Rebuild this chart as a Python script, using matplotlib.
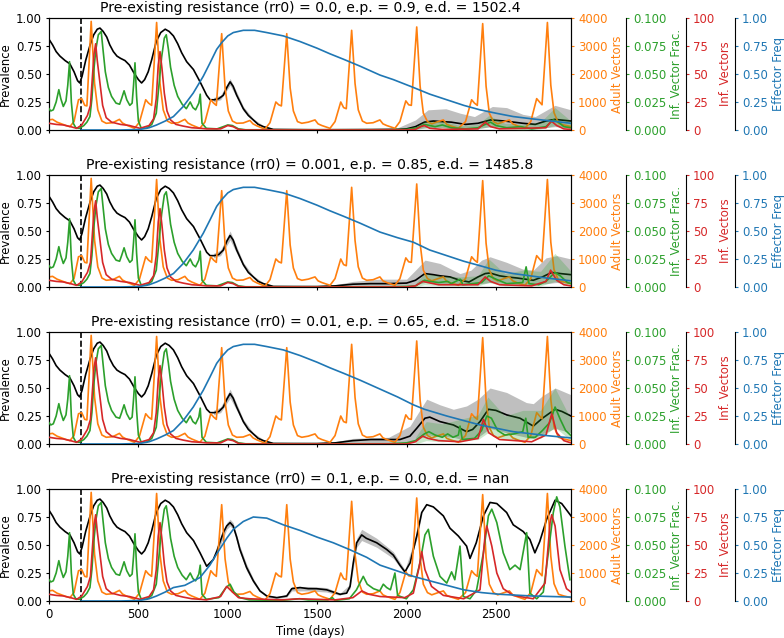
import numpy as np
import matplotlib
matplotlib.use("Agg")
import matplotlib.pyplot as plt

plt.rcParams["font.size"] = 8.4
plt.rcParams["xtick.major.size"] = 2.5
plt.rcParams["ytick.major.size"] = 2.5
plt.rcParams["xtick.major.pad"] = 2.5
plt.rcParams["ytick.major.pad"] = 2.5
plt.rcParams["axes.labelpad"] = 2.8
plt.rcParams["axes.titlepad"] = 4.2

# Panel parameters
rr0 = [0.0, 0.001, 0.01, 0.1]
ep = [0.9, 0.85, 0.65, 0.0]
ed = [1502.4, 1485.8, 1518.0, float("nan")]
release_day = 180
x_ticks = [0, 500, 1000, 1500, 2000, 2500]

# Adult vectors (same in all panels), (day, count)
adult_vectors = [(0, 360), (20, 380), (45, 280), (70, 220), (95, 160), (117, 120), (140, 300), (165, 1080),
                 (183, 1120), (200, 880), (212, 860), (236, 3880), (255, 1660), (273, 720), (296, 320),
                 (320, 240), (356, 260), (394, 380), (411, 250), (432, 180), (478, 60), (506, 280),
                 (541, 1080), (557, 960), (574, 880), (602, 3840), (621, 1660), (639, 720), (662, 320),
                 (686, 240), (722, 260), (760, 380), (777, 250), (798, 180), (844, 60), (872, 280),
                 (905, 1080), (921, 960), (936, 880), (966, 3440), (985, 1500), (1003, 680), (1026, 320),
                 (1050, 240), (1086, 250), (1124, 340), (1141, 220), (1162, 150), (1208, 30), (1236, 260),
                 (1269, 1000), (1285, 900), (1300, 860), (1330, 3440), (1349, 1500), (1367, 680),
                 (1390, 300), (1414, 240), (1450, 280), (1488, 360), (1505, 220), (1526, 160), (1572, 60),
                 (1600, 300), (1632, 1000), (1648, 800), (1663, 760), (1693, 3560), (1712, 1660),
                 (1730, 720), (1753, 320), (1777, 240), (1813, 260), (1851, 360), (1868, 220), (1889, 160),
                 (1935, 60), (1963, 300), (1996, 1040), (2012, 900), (2027, 880), (2057, 3680),
                 (2076, 1560), (2094, 600), (2117, 300), (2141, 220), (2177, 300), (2206, 360), (2225, 200),
                 (2250, 140), (2290, 60), (2330, 300), (2364, 1080), (2380, 960), (2396, 880), (2426, 3800),
                 (2445, 1560), (2463, 600), (2486, 300), (2510, 220), (2546, 300), (2575, 360), (2594, 220),
                 (2620, 150), (2662, 60), (2695, 300), (2728, 1120), (2744, 1000), (2758, 900), (2788, 3840),
                 (2807, 1600), (2825, 620), (2850, 240), (2880, 180), (2920, 120)]

# Prevalence (mean), common start
black_early = [(0, 0.81), (20, 0.76), (40, 0.70), (61, 0.66), (90, 0.62), (117, 0.59), (140, 0.52), (160, 0.44),
               (172, 0.42), (185, 0.48), (205, 0.62), (230, 0.76), (250, 0.85), (270, 0.90), (285, 0.91),
               (303, 0.88), (323, 0.83), (340, 0.76), (360, 0.70), (380, 0.66), (400, 0.64), (425, 0.62),
               (450, 0.58), (475, 0.51), (500, 0.45), (518, 0.42), (535, 0.45), (555, 0.52), (575, 0.63),
               (600, 0.79), (625, 0.87), (650, 0.90), (672, 0.88), (696, 0.84), (720, 0.77), (742, 0.69),
               (770, 0.61), (808, 0.54), (845, 0.43)]
black_p1 = [(882, 0.31), (901, 0.27), (925, 0.27), (950, 0.28), (975, 0.31), (995, 0.38), (1013, 0.43),
            (1030, 0.39), (1050, 0.31), (1087, 0.19), (1115, 0.13), (1143, 0.09), (1170, 0.05), (1199, 0.03),
            (1255, 0.005), (1500, 0.002), (1800, 0.003), (1950, 0.005), (2000, 0.01), (2050, 0.03),
            (2100, 0.07), (2150, 0.08), (2250, 0.07), (2330, 0.05), (2400, 0.06), (2470, 0.09), (2550, 0.08),
            (2650, 0.06), (2720, 0.05), (2780, 0.08), (2830, 0.095), (2920, 0.08)]
black_p2 = [(882, 0.31), (901, 0.28), (925, 0.28), (950, 0.29), (975, 0.33), (995, 0.41), (1013, 0.46),
            (1030, 0.42), (1050, 0.33), (1087, 0.20), (1115, 0.13), (1143, 0.09), (1170, 0.05), (1199, 0.03),
            (1255, 0.005), (1500, 0.003), (1600, 0.01), (1700, 0.025), (1800, 0.03), (1900, 0.03),
            (2000, 0.035), (2050, 0.06), (2103, 0.12), (2150, 0.11), (2187, 0.10), (2243, 0.09), (2299, 0.06),
            (2350, 0.045), (2400, 0.09), (2440, 0.12), (2467, 0.125), (2520, 0.10), (2560, 0.09),
            (2620, 0.08), (2709, 0.06), (2760, 0.09), (2812, 0.13), (2860, 0.12), (2920, 0.11)]
black_p3 = [(882, 0.31), (901, 0.28), (925, 0.28), (950, 0.29), (975, 0.33), (995, 0.40), (1013, 0.45),
            (1030, 0.41), (1050, 0.33), (1087, 0.20), (1115, 0.13), (1143, 0.09), (1170, 0.05), (1199, 0.03),
            (1255, 0.005), (1500, 0.003), (1600, 0.01), (1700, 0.03), (1800, 0.04), (1900, 0.04),
            (1963, 0.04), (2019, 0.07), (2057, 0.14), (2103, 0.23), (2130, 0.24), (2187, 0.20), (2262, 0.17),
            (2336, 0.11), (2370, 0.13), (2411, 0.20), (2458, 0.31), (2500, 0.30), (2560, 0.26), (2635, 0.23),
            (2709, 0.16), (2760, 0.23), (2831, 0.31), (2870, 0.29), (2920, 0.25)]
black_p4 = [(882, 0.31), (919, 0.37), (940, 0.45), (957, 0.53), (975, 0.61), (994, 0.67), (1013, 0.70),
            (1030, 0.67), (1050, 0.57), (1068, 0.46), (1105, 0.30), (1143, 0.18), (1180, 0.09), (1218, 0.045),
            (1274, 0.03), (1330, 0.045), (1358, 0.11), (1404, 0.12), (1450, 0.11), (1497, 0.11), (1553, 0.10),
            (1590, 0.08), (1628, 0.06), (1665, 0.07), (1684, 0.13), (1702, 0.34), (1721, 0.52), (1749, 0.59),
            (1775, 0.56), (1833, 0.52), (1889, 0.46), (1926, 0.41), (1963, 0.32), (1991, 0.26), (2020, 0.34),
            (2057, 0.58), (2085, 0.79), (2113, 0.86), (2150, 0.84), (2206, 0.76), (2243, 0.65), (2290, 0.58),
            (2336, 0.49), (2355, 0.38), (2390, 0.52), (2430, 0.76), (2467, 0.88), (2505, 0.87), (2560, 0.79),
            (2597, 0.68), (2653, 0.62), (2690, 0.55), (2718, 0.43), (2745, 0.53), (2784, 0.73), (2831, 0.90),
            (2868, 0.87), (2920, 0.76)]

# Prevalence spread (day, low, high)
band_p1 = [(920, 0.25, 0.29), (960, 0.27, 0.31), (1013, 0.40, 0.46), (1050, 0.29, 0.34), (1087, 0.17, 0.21),
           (1143, 0.08, 0.10), (1199, 0.02, 0.04), (1255, 0.0, 0.01), (1950, 0.0, 0.02), (2050, 0.01, 0.09),
           (2120, 0.02, 0.18), (2220, 0.02, 0.19), (2300, 0.01, 0.15), (2380, 0.01, 0.12), (2480, 0.03, 0.21),
           (2560, 0.02, 0.20), (2650, 0.01, 0.14), (2720, 0.01, 0.12), (2830, 0.03, 0.22), (2920, 0.02, 0.18)]
band_p2 = [(920, 0.26, 0.30), (960, 0.28, 0.33), (1013, 0.42, 0.50), (1050, 0.30, 0.36), (1087, 0.18, 0.22),
           (1143, 0.08, 0.10), (1199, 0.02, 0.04), (1255, 0.0, 0.01), (1600, 0.0, 0.02), (1700, 0.0, 0.05),
           (1850, 0.0, 0.07), (2000, 0.0, 0.07), (2050, 0.02, 0.15), (2103, 0.04, 0.24), (2187, 0.03, 0.21),
           (2299, 0.02, 0.12), (2360, 0.02, 0.15), (2420, 0.03, 0.24), (2467, 0.04, 0.27), (2560, 0.03, 0.22),
           (2650, 0.02, 0.16), (2709, 0.02, 0.15), (2780, 0.03, 0.26), (2840, 0.04, 0.28), (2920, 0.03, 0.25)]
band_p3 = [(920, 0.26, 0.30), (960, 0.28, 0.33), (1013, 0.41, 0.49), (1050, 0.30, 0.36), (1087, 0.18, 0.22),
           (1143, 0.08, 0.10), (1199, 0.02, 0.04), (1255, 0.0, 0.01), (1600, 0.0, 0.02), (1700, 0.01, 0.05),
           (1900, 0.01, 0.06), (2019, 0.01, 0.16), (2113, 0.08, 0.40), (2187, 0.07, 0.35), (2262, 0.06, 0.31),
           (2336, 0.03, 0.34), (2400, 0.06, 0.40), (2467, 0.14, 0.50), (2560, 0.10, 0.46), (2670, 0.06, 0.37),
           (2709, 0.05, 0.36), (2760, 0.09, 0.43), (2831, 0.14, 0.50), (2920, 0.10, 0.44)]
band_p4 = [(940, 0.42, 0.48), (994, 0.64, 0.70), (1013, 0.67, 0.73), (1030, 0.64, 0.70), (1068, 0.43, 0.49),
           (1105, 0.27, 0.33), (1143, 0.16, 0.20), (1180, 0.08, 0.10), (1218, 0.035, 0.055),
           (1274, 0.02, 0.04), (1330, 0.035, 0.055), (1358, 0.09, 0.13), (1450, 0.09, 0.13),
           (1553, 0.08, 0.12), (1628, 0.05, 0.07), (1684, 0.11, 0.15), (1721, 0.48, 0.56), (1749, 0.54, 0.64),
           (1833, 0.48, 0.56), (1926, 0.38, 0.44), (1991, 0.24, 0.28), (2057, 0.55, 0.61), (2085, 0.77, 0.81)]

# Infected vector fraction
green_early = [(0, 0.019), (10, 0.017), (24, 0.018), (40, 0.025), (55, 0.036), (66, 0.028), (80, 0.021),
               (95, 0.026), (105, 0.040), (115, 0.061), (125, 0.025), (136, 0.006), (150, 0.002),
               (170, 0.0015), (195, 0.004), (212, 0.007), (229, 0.012), (240, 0.028), (250, 0.052),
               (262, 0.072), (276, 0.085), (292, 0.088), (302, 0.072), (315, 0.052), (332, 0.038), (350, 0.030),
               (375, 0.024), (395, 0.023), (406, 0.028), (420, 0.035), (435, 0.027), (452, 0.022), (465, 0.024),
               (473, 0.040), (481, 0.060), (490, 0.030), (500, 0.008), (515, 0.002), (545, 0.0015),
               (575, 0.005), (600, 0.015), (615, 0.040), (630, 0.065), (645, 0.082), (656, 0.085), (668, 0.072),
               (680, 0.056), (700, 0.040), (720, 0.030), (745, 0.023), (768, 0.019), (790, 0.025), (805, 0.020),
               (820, 0.018), (838, 0.024), (846, 0.032), (856, 0.006), (880, 0.0015)]
green_mid = [(940, 0.001), (975, 0.003), (1000, 0.0045), (1025, 0.004), (1060, 0.001), (1100, 0.0002),
             (1900, 0.0002)]
green_p1 = [(2000, 0.0005), (2060, 0.002), (2100, 0.005), (2130, 0.004), (2160, 0.003), (2200, 0.0045),
            (2250, 0.002), (2330, 0.001), (2400, 0.002), (2440, 0.005), (2470, 0.007), (2500, 0.004),
            (2560, 0.002), (2640, 0.003), (2700, 0.001), (2780, 0.003), (2820, 0.009), (2850, 0.007),
            (2880, 0.003), (2920, 0.002)]
green_p2 = [(2000, 0.0005), (2050, 0.001), (2100, 0.006), (2130, 0.005), (2180, 0.004), (2230, 0.005),
            (2250, 0.003), (2300, 0.007), (2315, 0.002), (2370, 0.003), (2420, 0.004), (2460, 0.010),
            (2500, 0.007), (2560, 0.003), (2650, 0.004), (2669, 0.018), (2685, 0.003), (2740, 0.002),
            (2780, 0.005), (2830, 0.013), (2860, 0.010), (2900, 0.004), (2920, 0.003)]
green_p3 = [(2000, 0.001), (2050, 0.003), (2100, 0.009), (2125, 0.011), (2160, 0.008), (2200, 0.006),
            (2230, 0.009), (2260, 0.006), (2290, 0.008), (2299, 0.016), (2312, 0.004), (2380, 0.005),
            (2420, 0.012), (2449, 0.025), (2475, 0.023), (2510, 0.012), (2550, 0.008), (2600, 0.009),
            (2650, 0.011), (2667, 0.023), (2680, 0.006), (2720, 0.006), (2760, 0.012), (2800, 0.019),
            (2831, 0.033), (2860, 0.022), (2890, 0.012), (2920, 0.0075)]
green_p4 = [(950, 0.003), (990, 0.012), (1013, 0.015), (1035, 0.008), (1068, 0.003), (1120, 0.001),
            (1300, 0.0005), (1400, 0.002), (1450, 0.001), (1560, 0.001), (1585, 0.003), (1600, 0.0005),
            (1680, 0.002), (1720, 0.010), (1758, 0.022), (1780, 0.015), (1815, 0.011), (1850, 0.009),
            (1870, 0.015), (1889, 0.012), (1910, 0.010), (1935, 0.025), (1950, 0.005), (1999, 0.002),
            (2038, 0.010), (2075, 0.034), (2103, 0.059), (2122, 0.064), (2150, 0.040), (2187, 0.022),
            (2225, 0.016), (2252, 0.026), (2270, 0.019), (2299, 0.049), (2318, 0.004), (2355, 0.002),
            (2392, 0.010), (2430, 0.043), (2458, 0.076), (2477, 0.082), (2505, 0.070), (2541, 0.043),
            (2578, 0.028), (2607, 0.032), (2635, 0.028), (2672, 0.061), (2690, 0.007), (2728, 0.002),
            (2765, 0.008), (2793, 0.043), (2821, 0.079), (2840, 0.093), (2858, 0.084), (2886, 0.049),
            (2914, 0.019)]
gband_p1 = [(2050, 0.0, 0.003), (2100, 0.002, 0.008), (2200, 0.002, 0.008), (2300, 0.0, 0.004),
            (2400, 0.001, 0.005), (2460, 0.003, 0.013), (2550, 0.001, 0.006), (2650, 0.0, 0.005),
            (2750, 0.001, 0.007), (2830, 0.004, 0.020), (2920, 0.001, 0.008)]
gband_p2 = [(2050, 0.0, 0.003), (2100, 0.002, 0.012), (2200, 0.001, 0.010), (2300, 0.001, 0.009),
            (2400, 0.001, 0.010), (2460, 0.004, 0.025), (2550, 0.001, 0.012), (2650, 0.001, 0.015),
            (2750, 0.001, 0.014), (2830, 0.005, 0.030), (2920, 0.001, 0.014)]
gband_p3 = [(2050, 0.0, 0.006), (2110, 0.003, 0.020), (2200, 0.002, 0.018), (2300, 0.003, 0.022),
            (2400, 0.004, 0.026), (2455, 0.010, 0.042), (2550, 0.004, 0.025), (2650, 0.004, 0.030),
            (2750, 0.005, 0.030), (2830, 0.015, 0.050), (2920, 0.003, 0.022)]

# Infected vectors
red_early = [(0, 6), (40, 5), (80, 4.5), (120, 3), (155, 1.5), (183, 4.5), (200, 9), (215, 13), (232, 22),
             (243, 48), (252, 68), (261, 77), (270, 62), (285, 42), (300, 22), (320, 11), (350, 7), (400, 5),
             (450, 4), (509, 1.5), (560, 4), (585, 10), (600, 28), (611, 58), (621, 70), (632, 55), (645, 33),
             (660, 17), (680, 9), (710, 5), (750, 3.5), (800, 2), (850, 1.5), (880, 1)]
red_mid = [(960, 1), (1000, 4), (1030, 3), (1060, 0.5), (1100, 0), (2000, 0)]
red_p1 = [(2050, 0.5), (2080, 3), (2100, 4), (2130, 1.5), (2200, 0.5), (2400, 1), (2440, 7), (2470, 3),
          (2520, 1), (2780, 2), (2810, 8), (2840, 4), (2880, 1), (2920, 0.5)]
red_p2 = [(2050, 1), (2090, 5), (2120, 4), (2180, 2), (2400, 2), (2440, 9), (2470, 5), (2520, 2), (2700, 1),
          (2780, 5), (2806, 15), (2840, 6), (2880, 2), (2920, 1)]
red_p3 = [(2050, 2), (2090, 7), (2120, 5), (2180, 3), (2300, 2), (2400, 5), (2430, 22), (2460, 10),
          (2520, 4), (2700, 2), (2780, 8), (2812, 27), (2840, 10), (2880, 3), (2920, 1)]
red_p4 = [(960, 4), (994, 13), (1020, 9), (1060, 3), (1120, 2), (1300, 1), (1400, 2), (1600, 1), (1700, 3),
          (1750, 9), (1790, 6), (1852, 4), (1990, 3), (2038, 7), (2070, 30), (2085, 44), (2103, 28),
          (2140, 13), (2206, 5), (2320, 2), (2411, 10), (2439, 58), (2449, 67), (2477, 49), (2505, 25),
          (2541, 11), (2597, 5), (2709, 2), (2775, 16), (2803, 70), (2812, 77), (2831, 67), (2858, 28),
          (2895, 11), (2920, 8)]

# Effector frequency
blue_early = [(180, 0.0), (400, 0.0), (509, 0.005), (560, 0.02), (602, 0.045), (650, 0.08), (696, 0.12)]
blue_mid = [(751, 0.21), (807, 0.33), (863, 0.48), (901, 0.60), (938, 0.72), (966, 0.78), (1000, 0.84),
            (1031, 0.87), (1087, 0.89), (1150, 0.89), (1218, 0.87), (1311, 0.84), (1404, 0.79), (1500, 0.73),
            (1572, 0.68), (1650, 0.63), (1740, 0.57), (1852, 0.49)]
blue_p1 = [(1926, 0.45), (2038, 0.38), (2130, 0.32), (2225, 0.27), (2320, 0.22), (2411, 0.18), (2500, 0.15),
           (2597, 0.12), (2700, 0.10), (2784, 0.085), (2920, 0.06)]
blue_p2 = [(1950, 0.44), (2038, 0.40), (2130, 0.33), (2225, 0.28), (2320, 0.23), (2411, 0.19), (2500, 0.15),
           (2597, 0.12), (2690, 0.10), (2784, 0.08), (2920, 0.055)]
blue_p3 = [(1950, 0.42), (2038, 0.35), (2100, 0.31), (2225, 0.25), (2411, 0.17), (2597, 0.11), (2784, 0.075),
           (2920, 0.054)]
blue_p4 = [(760, 0.14), (845, 0.21), (900, 0.32), (938, 0.42), (994, 0.56), (1031, 0.64), (1087, 0.71),
           (1143, 0.75), (1218, 0.74), (1311, 0.68), (1404, 0.63), (1500, 0.57), (1590, 0.52), (1680, 0.46),
           (1777, 0.39), (1852, 0.32), (1963, 0.26), (2038, 0.22), (2130, 0.18), (2225, 0.14), (2320, 0.10),
           (2420, 0.075), (2520, 0.06), (2700, 0.045), (2920, 0.035)]

# Assemble series per panel
black_series = [black_early + b for b in (black_p1, black_p2, black_p3, black_p4)]
bands = [band_p1, band_p2, band_p3, band_p4]
green_series = [green_early + green_mid + g for g in (green_p1, green_p2, green_p3)] + [green_early + green_p4]
gbands = [gband_p1, gband_p2, gband_p3, None]
red_series = [red_early + red_mid + r for r in (red_p1, red_p2, red_p3)] + [red_early + red_p4]
blue_series = [blue_early + blue_mid + b for b in (blue_p1, blue_p2, blue_p3)] + [blue_early + blue_p4]

c_vec, c_frac, c_inf, c_eff = "#ff7f0e", "#2ca02c", "#d62728", "#1f77b4"
lw = 1.2


def cols(points):
    arr = np.array(points, dtype=float)
    return [arr[:, k] for k in range(arr.shape[1])]


fig = plt.figure(figsize=(7.84, 6.38), dpi=100)

for i in range(4):
    bottom = 1 - (130 + 157 * i) / 638
    ax = fig.add_axes([49 / 784, bottom, 522 / 784, 112 / 638])

    # prevalence with spread
    t, lo, hi = cols(bands[i])
    ax.fill_between(t, lo, hi, color="grey", alpha=0.5, linewidth=0)
    t, y = cols(black_series[i])
    ax.plot(t, y, color="k", lw=lw)
    ax.axvline(release_day, color="k", linestyle="--", lw=lw)
    ax.set_xlim(0, 2920)
    ax.set_ylim(0, 1)
    ax.set_yticks([0, 0.25, 0.5, 0.75, 1.0])
    ax.set_yticklabels(["0.00", "0.25", "0.50", "0.75", "1.00"])
    ax.set_xticks(x_ticks)
    ax.set_ylabel("Prevalence")
    if i < 3:
        ax.tick_params(axis="x", labelbottom=False)
    else:
        ax.set_xlabel("Time (days)")
    ax.set_title(f"Pre-existing resistance (rr0) = {rr0[i]}, e.p. = {ep[i]}, e.d. = {ed[i]}", fontsize=10.1)

    # adult vectors
    ax_v = ax.twinx()
    t, y = cols(adult_vectors)
    ax_v.plot(t, y, color=c_vec, lw=lw)
    ax_v.set_ylim(0, 4000)
    ax_v.set_yticks([0, 1000, 2000, 3000, 4000])
    ax_v.set_ylabel("Adult Vectors", color=c_vec)
    ax_v.tick_params(axis="y", colors=c_vec)

    # infected vector fraction
    ax_g = ax.twinx()
    ax_g.spines["right"].set_position(("axes", 1.105))
    if gbands[i] is not None:
        t, lo, hi = cols(gbands[i])
        ax_g.fill_between(t, lo, hi, color=c_frac, alpha=0.25, linewidth=0)
    t, y = cols(green_series[i])
    ax_g.plot(t, y, color=c_frac, lw=lw)
    ax_g.set_ylim(0, 0.1)
    ax_g.set_yticks([0, 0.025, 0.05, 0.075, 0.1])
    ax_g.set_yticklabels(["0.000", "0.025", "0.050", "0.075", "0.100"])
    ax_g.set_ylabel("Inf. Vector Frac.", color=c_frac)
    ax_g.tick_params(axis="y", colors=c_frac)

    # infected vectors
    ax_r = ax.twinx()
    ax_r.spines["right"].set_position(("axes", 1.22))
    t, y = cols(red_series[i])
    ax_r.plot(t, y, color=c_inf, lw=lw)
    ax_r.set_ylim(0, 100)
    ax_r.set_yticks([0, 25, 50, 75, 100])
    ax_r.set_ylabel("Inf. Vectors", color=c_inf)
    ax_r.tick_params(axis="y", colors=c_inf)

    # effector frequency
    ax_b = ax.twinx()
    ax_b.spines["right"].set_position(("axes", 1.314))
    t, y = cols(blue_series[i])
    ax_b.plot(t, y, color=c_eff, lw=lw)
    ax_b.set_ylim(0, 1)
    ax_b.set_yticks([0, 0.25, 0.5, 0.75, 1.0])
    ax_b.set_yticklabels(["0.00", "0.25", "0.50", "0.75", "1.00"])
    ax_b.set_ylabel("Effector Freq", color=c_eff)
    ax_b.tick_params(axis="y", colors=c_eff)

    for twin in (ax_g, ax_r, ax_b):
        for side in ("top", "bottom", "left"):
            twin.spines[side].set_visible(False)

fig.savefig("out.png", dpi=100)
